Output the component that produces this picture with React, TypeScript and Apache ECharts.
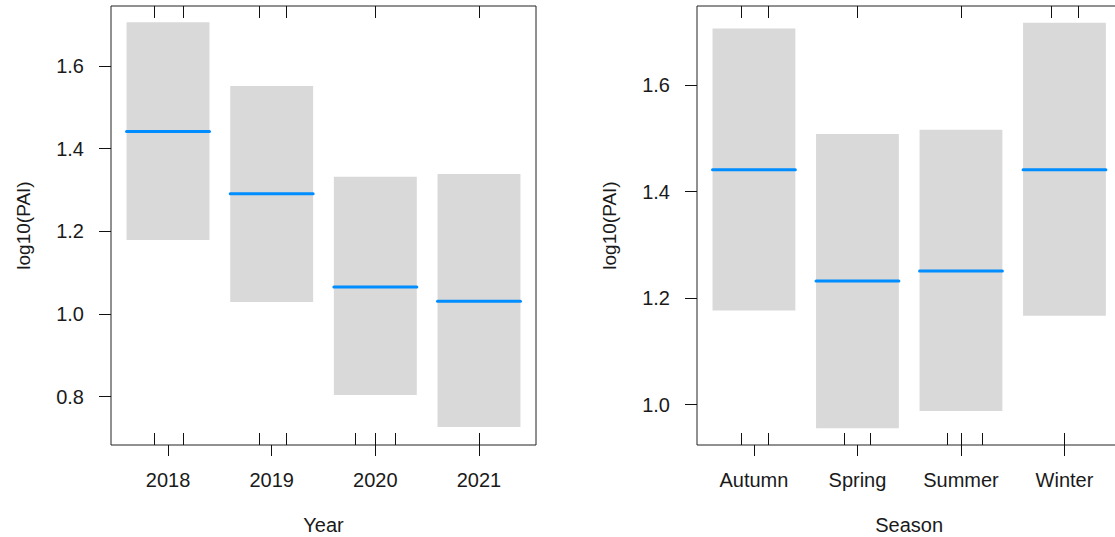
import React, { useEffect, useRef } from "react";
import * as echarts from "echarts";

// ---- data ----
const yearCats = ["2018", "2019", "2020", "2021"];
const yearFit = [1.442, 1.291, 1.065, 1.031];
const yearLower = [1.179, 1.029, 0.804, 0.726];
const yearUpper = [1.706, 1.552, 1.332, 1.339];
const yearRugBottom = [0.868, 1.142, 1.874, 2.134, 2.802, 3.0, 3.19, 4.0];
const yearRugTop = [0.868, 1.142, 1.874, 2.134, 3.0, 4.0];
const yearTicks = [0.8, 1.0, 1.2, 1.4, 1.6];

const seasonCats = ["Autumn", "Spring", "Summer", "Winter"];
const seasonFit = [1.441, 1.232, 1.251, 1.441];
const seasonLower = [1.177, 0.956, 0.988, 1.167];
const seasonUpper = [1.706, 1.508, 1.516, 1.717];
const seasonRugBottom = [0.871, 1.132, 1.867, 2.124, 2.862, 3.0, 3.2, 4.0];
const seasonRugTop = [0.871, 1.132, 2.0, 3.0, 3.868, 4.129];
const seasonTicks = [1.0, 1.2, 1.4, 1.6];

const yearRange = [0.6827, 1.7456];
const seasonRange = [0.9244, 1.7483];

const FONT = "'Liberation Sans', Arial, sans-serif";
const TEXT = "#1a1a1a";
const FS = 20;
const HALF = 0.4;
const RUG_LEN = 12;

function bandSeries(gi: number, fit: number[], lower: number[], upper: number[]) {
  return {
    type: "custom",
    xAxisIndex: gi,
    yAxisIndex: gi,
    encode: { x: 0, y: [1, 2, 3] },
    data: fit.map((f, i) => [i + 1, lower[i], upper[i], f]),
    renderItem: (_p: any, api: any) => {
      const x = api.value(0);
      const lo = api.value(1);
      const hi = api.value(2);
      const f = api.value(3);
      const a = api.coord([x - HALF, hi]);
      const b = api.coord([x + HALF, lo]);
      const l1 = api.coord([x - HALF, f]);
      const l2 = api.coord([x + HALF, f]);
      return {
        type: "group",
        children: [
          {
            type: "rect",
            shape: { x: a[0], y: a[1], width: b[0] - a[0], height: b[1] - a[1] },
            style: { fill: "#D9D9D9" },
          },
          {
            type: "line",
            shape: { x1: l1[0], y1: l1[1], x2: l2[0], y2: l2[1] },
            style: { stroke: "#008DFF", lineWidth: 3, lineCap: "round" },
          },
        ],
      };
    },
  };
}

function rugSeries(gi: number, xs: number[], yv: number, dir: number) {
  return {
    type: "custom",
    xAxisIndex: gi,
    yAxisIndex: gi,
    encode: { x: 0, y: 1 },
    data: xs.map((x) => [x, yv]),
    renderItem: (_p: any, api: any) => {
      const p = api.coord([api.value(0), api.value(1)]);
      const px = Math.round(p[0]) + 0.5;
      return {
        type: "line",
        shape: { x1: px, y1: p[1], x2: px, y2: p[1] + dir * RUG_LEN },
        style: { stroke: "#111", lineWidth: 1 },
      };
    },
  };
}

function xAxisFor(gi: number, cats: string[], name: string) {
  return {
    type: "value",
    gridIndex: gi,
    min: 0.45,
    max: 4.55,
    name,
    nameLocation: "middle",
    nameGap: 70,
    nameTextStyle: { fontFamily: FONT, fontSize: FS, color: TEXT },
    axisLine: { show: false },
    splitLine: { show: false },
    axisTick: {
      show: true,
      length: 11,
      customValues: [1, 2, 3, 4],
      lineStyle: { color: "#111", width: 1 },
    },
    axisLabel: {
      show: true,
      customValues: [1, 2, 3, 4],
      margin: 25,
      fontFamily: FONT,
      fontSize: FS,
      color: TEXT,
      formatter: (v: number) => cats[Math.round(v) - 1] ?? "",
    },
  };
}

function yAxisFor(gi: number, range: number[], ticks: number[]) {
  return {
    type: "value",
    gridIndex: gi,
    min: range[0],
    max: range[1],
    name: "log10(PAI)",
    nameLocation: "middle",
    nameGap: 78,
    nameTextStyle: { fontFamily: FONT, fontSize: FS - 1, color: TEXT },
    axisLine: { show: false },
    splitLine: { show: false },
    axisTick: {
      show: true,
      length: 12,
      customValues: ticks,
      lineStyle: { color: "#111", width: 1 },
    },
    axisLabel: {
      show: true,
      customValues: ticks,
      margin: 27,
      fontFamily: FONT,
      fontSize: FS,
      color: TEXT,
      formatter: (v: number) => v.toFixed(1),
    },
  };
}

export default function App() {
  const ref = useRef<HTMLDivElement>(null);
  useEffect(() => {
    if (!ref.current) return;
    const chart = echarts.init(ref.current, null, { renderer: "svg" });
    chart.setOption({
      animation: false,
      backgroundColor: "#ffffff",
      grid: [
        { left: 111, top: 6, width: 425, height: 439, outerBoundsMode: "none", containLabel: false, show: true, borderColor: "#222", borderWidth: 1, backgroundColor: "transparent" },
        { left: 697, top: 6, width: 424.4, height: 439, outerBoundsMode: "none", containLabel: false, show: true, borderColor: "#222", borderWidth: 1, backgroundColor: "transparent" },
      ],
      xAxis: [xAxisFor(0, yearCats, "Year"), xAxisFor(1, seasonCats, "Season")],
      yAxis: [yAxisFor(0, yearRange, yearTicks), yAxisFor(1, seasonRange, seasonTicks)],
      series: [
        bandSeries(0, yearFit, yearLower, yearUpper),
        rugSeries(0, yearRugBottom, yearRange[0], -1),
        rugSeries(0, yearRugTop, yearRange[1], 1),
        bandSeries(1, seasonFit, seasonLower, seasonUpper),
        rugSeries(1, seasonRugBottom, seasonRange[0], -1),
        rugSeries(1, seasonRugTop, seasonRange[1], 1),
      ],
    });
    return () => chart.dispose();
  }, []);
  return (
    <div
      ref={ref}
      style={{ position: "absolute", left: 0, top: 0, width: 1115, height: 537, overflow: "hidden" }}
    />
  );
}
